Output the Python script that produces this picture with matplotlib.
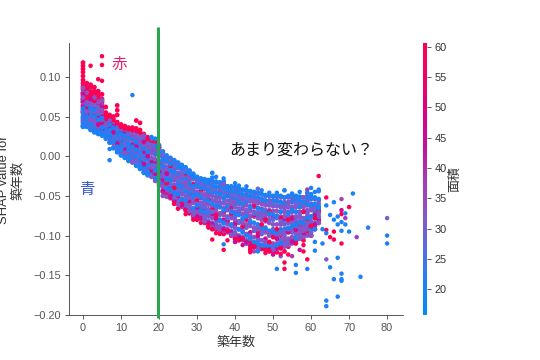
import matplotlib
matplotlib.use("Agg")
import matplotlib.pyplot as plt
from matplotlib.colors import LinearSegmentedColormap, Normalize
from matplotlib.cm import ScalarMappable

plt.rcParams['font.family'] = ['Noto Sans CJK JP', 'DejaVu Sans']

# SHAP values in thousandths; row index = building age (years)
mid_rows = [
 [86,80,74,68,62,56,50,44,38],[86,80,74,68,62,56,50,44,38],[82,76,70,64,58,52,46,40,34],
 [80,74,68,62,56,50,44,38,31],[74,68,62,56,50,44,38,34,29],[70,64,58,52,46,40,34,27],
 [50,45,40,35,30,24],[45,40,35,30,25,18],[42,37,32,27,22,16,11],[38,33,28,23,18,12,6],
 [36,31,26,21,16,11,6,2],[34,29,24,19,14,9,4,-1],[32,27,22,17,12,7,2,-5],[31,26,21,16,11,6,1,-7],
 [30,25,20,15,10,5,0,-5,-11],[28,23,18,13,8,3,-2,-8,-15],[26,21,16,11,6,1,-5,-11,-20],
 [22,17,12,7,2,-3,-9,-15,-23],[22,16,10,4,-2,-8,-14,-20,-26],[20,14,8,2,-4,-10,-16,-23,-31],
 [12,6,0,-6,-12,-18,-24,-30,-37],[5,-1,-7,-13,-19,-25,-31,-38,-45,-50],[-1,-7,-13,-19,-25,-31,-37,-43,-51],
 [-3,-9,-15,-21,-27,-33,-39,-45,-53],[-6,-12,-18,-24,-30,-36,-42,-48,-57],[-9,-15,-21,-27,-33,-39,-45,-52,-61],
 [-12,-18,-24,-30,-36,-42,-48,-54,-64],[-15,-21,-27,-33,-39,-45,-51,-58,-67],[-19,-25,-31,-37,-43,-49,-55,-62,-69],
 [-23,-29,-35,-41,-47,-53,-59,-66,-74],[-27,-33,-39,-45,-51,-57,-63,-70,-77],[-29,-35,-41,-47,-53,-59,-65,-72,-79],
 [-30,-36,-42,-48,-54,-60,-66,-74,-82],[-31,-37,-43,-49,-55,-61,-67,-76,-85],[-32,-38,-44,-50,-56,-62,-68,-78,-89],
 [-33,-39,-45,-51,-57,-63,-70,-80,-90],[-34,-40,-46,-52,-58,-64,-72,-82,-92],[-35,-41,-47,-53,-59,-65,-74,-84,-94],
 [-38,-44,-50,-56,-62,-68,-76,-86,-96],[-39,-45,-51,-57,-63,-69,-78,-88,-99],[-40,-46,-52,-58,-64,-70,-80,-90,-101],
 [-42,-48,-54,-60,-66,-72,-82,-92,-104],[-43,-49,-55,-61,-67,-73,-84,-94,-106],[-44,-50,-56,-62,-68,-74,-86,-98,-110],
 [-45,-51,-57,-63,-69,-75,-88,-100,-113],[-46,-52,-58,-64,-70,-76,-90,-102,-115],[-47,-53,-59,-65,-71,-78,-92,-104,-116],
 [-48,-54,-60,-66,-72,-80,-94,-106,-117],[-50,-56,-62,-68,-74,-82,-96,-108,-118],[-50,-56,-62,-68,-74,-84,-98,-110,-118],
 [-51,-57,-63,-69,-75,-86,-98,-110,-118],[-51,-57,-63,-69,-75,-86,-98,-110,-117],[-52,-58,-64,-70,-76,-86,-98,-108,-116],
 [-52,-58,-64,-70,-76,-86,-96,-106,-114],[-52,-58,-64,-70,-76,-84,-94,-104,-112],[-52,-58,-64,-70,-76,-84,-92,-102,-110],
 [-52,-58,-64,-70,-76,-82,-90,-98,-107],[-52,-58,-64,-70,-76,-82,-90,-96,-104],[-52,-58,-64,-70,-78,-86,-94,-102],
 [-50,-56,-62,-68,-76,-84,-92,-100],[-52,-60,-68,-76,-84,-92,-100],[-54,-62,-70,-78,-88],[-56,-64,-72,-84],
]
red_rows = [
 [118,114,110,106,101,96,92,88,84,80,76,72,68],[92,88,84,80,76,72],[90,86,81,77,73],
 [87,82,78,74,70],[82,79,75,70,66],[78,72,68,64,60],
 [62,55,51,47],[52,49,45,42],[50,47,44,41],[64,58,52,43,40,37],
 [40,37,35],[38,35],[36,34],[36,33],
 [45,35,32],[42,33,30],[28,25],[24,20],[22,18],[19,14],
 [10,-26],[-11,-38],[-34,-47],[-12,-52],[-40,-60],[-28,-66],
 [-34,-60],[-24,-68],[-48,-72],[-36,-76],[-56,-80],[-44,-72],
 [-58,-84],[-46,-88],[-66,-92],[-74,-92],[-52,-96],[-70,-98],
 [-62,-94],[-72,-100],[-84,-104],[-58,-106],[-88,-104],[-80,-110],
 [-76,-108,-118],[-62,-114],[-96,-112],[-86,-116],[-80,-118],[-70,-108,-120],
 [-102,-120],[-92,-121],[-78,-116],[-104,-120],[-80,-114],[-68,-106],
 [-94,-110],[-86,-102],[-70,-106],[-80,-96],[-88,-100],[-78,-92],[-70,-84],
]
magenta_rows = [
 [78,70,64,56],[76,66,60,52],[72,64,56,48],[70,60,52,44],[66,56,48,40],[62,50,42,34],
 [46,38,30],[42,34,26],[38,30,22],[34,26,16],[30,20,12],[28,18,8],[26,16,4],[24,14,2],
 [22,12,-2],[20,8,-6],[18,4,-10],[14,0,-14],[8,-6,-18],[6,-8,-22],
 [-20,-34],[-30,-44],[-22,-48],[-40,-50],[-28,-56],[-50,-60],
 [-46,-62],[-36,-66],[-58,-70],[-44,-73],[-66,-76],[-52,-78],
 [-68,-80],[-54,-84],[-74,-86],[-78,-88],[-60,-90],[-80,-92],
 [-82,-94],[-66,-96],[-86,-98],[-70,-102],[-90,-104],[-72,-108],
 [-96,-112],[-74,-114],[-100,-115],[-78,-116],[-104,-117],[-80,-117],
 [-76,-116],[-104,-116],[-100,-114],[-80,-112],[-96,-110],[-78,-108],
 [-92,-106],[-76,-102],[-88,-98],[-70,-96],[-76,-88],[-74,-86],[-68,-80],
]
indigo_rows = [
 [72,58,46,39],[70,54,46,40],[68,52,42,35],[64,48,40,33],[60,44,34,29],[56,44,32,28],
 [48,40,28],[44,36,24],[40,28,20],[36,24,10],[34,24,10],[30,16,6],[28,14,-4],[26,8,-2],
 [24,6,-8],[22,10,-10],[20,6,-16],[16,2,-18],[14,-4,-24],[10,-12,-28],
 [8,-10,-22,-32],[2,-16,-28,-42],[-4,-16,-30,-40],[-6,-24,-36,-48],[-14,-26,-38,-52],[-12,-30,-42,-56],
 [-20,-32,-44,-58],[-18,-36,-48,-62],[-26,-40,-52,-66],[-28,-44,-56,-70],[-34,-46,-60,-74],[-36,-50,-62,-76],
 [-38,-52,-64,-78],[-40,-50,-68,-82],[-42,-56,-70,-84],[-40,-54,-66,-84],[-44,-60,-74,-88],[-46,-58,-72,-90],
 [-48,-66,-78,-92],[-48,-60,-74,-94],[-50,-62,-76,-96],[-52,-68,-84,-100],[-52,-64,-80,-102],[-54,-70,-90,-106],
 [-54,-66,-84,-104],[-56,-72,-94,-110],[-56,-74,-88,-108],[-58,-76,-98,-112],[-60,-78,-90,-110],[-60,-80,-100,-114],
 [-60,-80,-92,-112],[-62,-78,-102,-114],[-62,-82,-92,-106],[-66,-84,-100,-110],[-62,-78,-92,-108],[-64,-80,-96,-104],
 [-60,-78,-88,-102],[-62,-74,-94,-100],[-60,-80,-92],[-56,-72,-88],[-64,-82,-96],[-66,-84],[-60,-76],
]
blue_rows = [
 [60,54,48,42,37],[64,56,50,44,37],[60,54,47,40,33],[58,50,44,36,30],[52,46,38,32,28],[48,42,36,30,26],
 [44,37,32,26,22],[40,33,27,22,17],[36,30,24,18,10],[32,26,20,12,5],[28,22,14,8,1],[26,20,12,4,-2],
 [24,16,8,0,-6],[22,12,4,-4,-8],[18,8,0,-8,-12],[14,4,-4,-12,-16],[10,0,-8,-14,-21],[6,-4,-12,-20,-24],
 [24,10,-2,-10,-22],[22,12,4,-8,-18,-28],[14,2,-6,-14,-26],[6,-4,-12,-22,-34],[1,-6,-16,-28,-40],[-2,-10,-18,-30,-42],
 [-5,-10,-20,-30,-46],[-8,-14,-24,-36,-48],[-11,-16,-28,-38,-54],[-14,-20,-30,-44,-56],[-18,-22,-34,-46,-62],[-22,-26,-38,-50,-66],
 [-26,-30,-36,-48,-62],[-28,-32,-40,-52,-68],[-29,-34,-40,-56,-70],[-30,-34,-44,-56,-72],[-21,-27,-31,-36,-46,-60],[-32,-38,-46,-62,-78],
 [-33,-38,-48,-64,-80],[-32,-36,-42,-52,-68,-84],[-38,-42,-50,-64,-82],[-38,-44,-54,-70,-86],[-39,-44,-54,-72,-90],[-41,-46,-58,-74,-92],
 [-42,-48,-60,-78,-96],[-43,-48,-58,-76,-100],[-44,-50,-64,-82,-104],[-45,-50,-62,-84,-108],[-46,-52,-66,-86,-110],[-48,-54,-68,-90,-112],
 [-49,-56,-70,-92,-114],[-50,-56,-72,-94,-112],[-50,-56,-74,-96,-114],[-49,-56,-76,-96,-112],[-50,-58,-70,-94,-110],[-43,-52,-60,-76,-92,-110],
 [-50,-58,-72,-90,-108],[-50,-56,-68,-88,-106],[-50,-56,-70,-86,-104],[-51,-56,-64,-84,-100],[-52,-58,-70,-84,-98],[-46,-52,-60,-78,-92],
 [-48,-54,-62,-76,-92,-100],[-52,-60,-72,-92],[-44,-54,-64,-80],
]
mid_area = 33
red_area = 60
magenta_area = 46
indigo_area = 28
blue_area = 21

extra_age = [5,5,2,4,5,13,7,7,62,71,68,64,66,70,68,68,69,67,68,69,68,70,75,80,80,80,72,66,64,64,65,66,68,63,61,64,67,65,68,68,68,66,73,67,64,64,59,59,58,56,56,53,53,51,52,46,44,44,34,37,37,40,38,35,65,66,67,69,63,64,62,61]
extra_shap = [126,115,114,97,95,77,9,-5,-25,-47,-54,-52,-58,-64,-68,-73,-78,-76,-83,-86,-94,-95,-90,-78,-100,-110,-102,-95,-93,-97,-102,-105,-110,-110,-119,-130,-128,-140,-148,-155,-157,-155,-152,-177,-182,-189,-130,-142,-120,-137,-147,-134,-142,-142,-123,-120,-116,-121,-105,-111,-118,-108,-106,-97,-74,-80,-86,-72,-92,-62,-66,-108]
extra_area = [60,60,60,60,60,21,21,21,60,21,36,60,21,60,48,60,38,21,21,21,21,21,21,30,21,21,36,60,60,21,60,60,60,21,21,30,21,21,21,21,21,21,21,21,21,21,60,21,60,21,21,60,60,21,60,21,60,60,60,21,60,44,60,60,21,21,21,21,21,21,21,21]

# Uneven outer edge of the cloud
edge_age = [35,37,37,40,41,43,46,47,49,51,55,57,59,60,61,62,40,42,45,48,50,52,54,55,57,58,31,33,36,29,27]
edge_shap = [-26,-28,-32,-34,-37,-38,-41,-43,-46,-46,-47,-45,-42,-40,-45,-42,-108,-112,-120,-122,-124,-126,-124,-126,-118,-112,-84,-90,-98,-80,-73]
edge_area = [21,21,21,21,21,21,28,21,21,21,21,21,38,21,21,21,40,46,33,60,46,33,60,38,46,60,60,46,60,60,60]

year_line = [19.8, 19.8]
year_line_shap = [0.163, -0.204]
xticks_major = [0, 10, 20, 30, 40, 50, 60, 70, 80]
yticks_major = [0.10, 0.05, 0.00, -0.05, -0.10, -0.15, -0.20]
cb_ticks = [20, 25, 30, 35, 40, 45, 50, 55, 60]

cmap = LinearSegmentedColormap.from_list('red_blue', ['#008bfb', '#1f80f5', '#5c6be0', '#8a54c8', '#ab38b4', '#c2109e', '#dc0084', '#f0006a', '#ff0051'])
norm = Normalize(15.76, 60.66)

W, H = 540, 360
fig = plt.figure(figsize=(7.5, 5), dpi=72)
ax = fig.add_axes([68.7/W, 1-315.3/H, 334/W, 272/H])

# Merge the area groups so that they overlap one another as in the reference
points = []
for rows, area in [(mid_rows, mid_area), (magenta_rows, magenta_area), (red_rows, red_area),
                   (indigo_rows, indigo_area), (blue_rows, blue_area)]:
    for age, row in enumerate(rows):
        for v in row:
            points.append((age, v, area))
points.sort(key=lambda p: (p[0] * 31 + abs(p[1]) * 17 + p[2] * 5) % 23 + (9 if p[2] == blue_area else 0))
ax.scatter(edge_age, [v / 1000 for v in edge_shap], s=20, c=edge_area, cmap=cmap, norm=norm, linewidths=0, zorder=2)
ax.scatter([p[0] for p in points], [p[1] / 1000 for p in points], s=23,
           c=[p[2] for p in points], cmap=cmap, norm=norm, linewidths=0, zorder=2)
ax.scatter(extra_age, [v / 1000 for v in extra_shap], s=20, c=extra_area, cmap=cmap, norm=norm, linewidths=0, zorder=2)

ax.plot(year_line, year_line_shap, color='#27a84e', lw=3, clip_on=False, zorder=3, solid_capstyle='butt')

tick_font = ['Liberation Sans', 'DejaVu Sans']
ax.set_xlim(-3.76, 84.1)
ax.set_ylim(-0.2005, 0.1423)
ax.set_xticks(xticks_major)
ax.set_yticks(yticks_major)
ax.tick_params(labelsize=11, colors='#333333', length=4, width=0.8, labelcolor='#555555')
for lab in ax.get_xticklabels() + ax.get_yticklabels():
    lab.set_fontfamily(tick_font)
for s in ['top', 'right']:
    ax.spines[s].set_visible(False)
for s in ['left', 'bottom']:
    ax.spines[s].set_color('#333333')
    ax.spines[s].set_linewidth(0.8)
ax.set_xlabel('築年数', fontsize=13, color='#333333', labelpad=3)
fig.text(11/W, 1-180/H, 'SHAP value for\n築年数', rotation=90, fontsize=13, color='#333333', ha='center', va='center', linespacing=1.2, family=tick_font + ['Noto Sans CJK JP'])

ax.text(7.6, 0.116, '赤', fontsize=15.5, color='#e0206a', va='center', ha='left')
ax.text(-1, -0.0415, '青', fontsize=15.5, color='#3355dd', va='center', ha='left')
ax.text(38.4, 0.008, 'あまり変わらない？', fontsize=16, color='#111111', va='center', ha='left')

cax = fig.add_axes([423/W, 1-315/H, 4/W, 272.3/H])
cb = fig.colorbar(ScalarMappable(norm=norm, cmap=cmap), cax=cax)
cb.set_ticks(cb_ticks)
cb.ax.tick_params(labelsize=11, length=4, width=0.8, colors='#333333')
for lab in cb.ax.get_yticklabels():
    lab.set_fontfamily(tick_font)
cb.outline.set_visible(False)
cb.set_label('面積', fontsize=13, color='#333333', labelpad=1)

fig.savefig('out.png', dpi=72)
